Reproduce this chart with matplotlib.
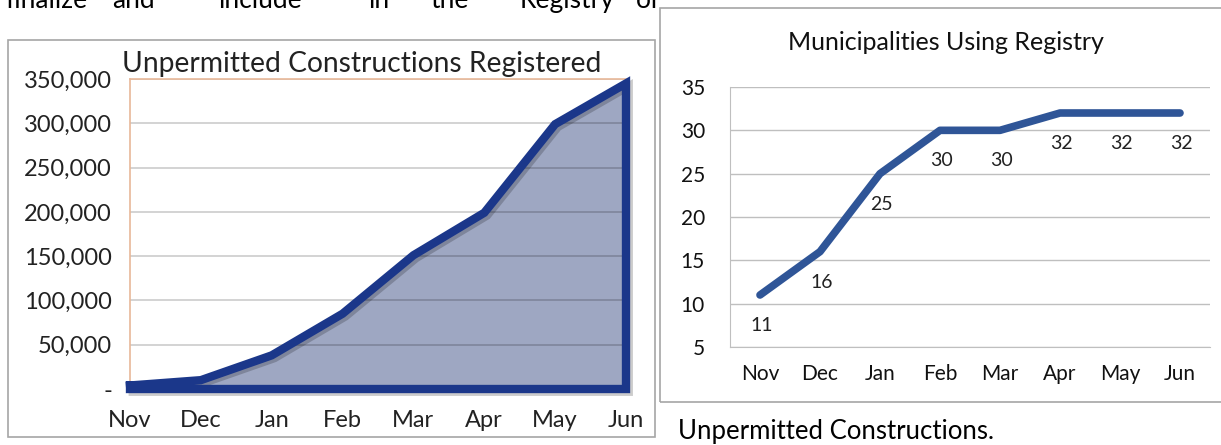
import matplotlib.pyplot as plt
import matplotlib.patheffects as pe
from matplotlib.patches import Rectangle

# data
months = ["Nov", "Dec", "Jan", "Feb", "Mar", "Apr", "May", "Jun"]
registered = [4000, 10000, 38000, 85000, 151000, 199000, 299000, 345000]
municipalities = [11, 16, 25, 30, 30, 32, 32, 32]
reg_ticks = [0, 50000, 100000, 150000, 200000, 250000, 300000, 350000]
mun_ticks = [5, 10, 15, 20, 25, 30, 35]

W, H = 1221, 445
plt.rcParams['font.family'] = ['Lato', 'DejaVu Sans']

fig = plt.figure(figsize=(W / 100, H / 100), dpi=100)


def fx(x):
    return x / W


def fy(y):
    return 1 - y / H


# cut-off line of body text at the top
words = ["finalize", "and", "include", "in", "the", "Registry", "of"]
word_x = [5, 112, 218, 368, 430, 520, 636]
for w, x in zip(words, word_x):
    fig.text(fx(x), fy(8), w, fontsize=19, color="black", va="baseline", ha="left")

# frames
fig.patches.append(Rectangle((fx(8), fy(437)), (655 - 8) / W, (437 - 40) / H,
                             transform=fig.transFigure, fill=False,
                             ec="#a6a6a6", lw=1.2))
fig.patches.append(Rectangle((fx(660), fy(402)), (W + 10 - 660) / W, (402 - 8) / H,
                             transform=fig.transFigure, fill=False,
                             ec="#a6a6a6", lw=1.2))

# ---- left chart: area ----
ax1 = fig.add_axes([fx(130), fy(389), 496 / W, 310 / H])
x = list(range(len(months)))
ax1.fill_between(x, registered, 0, color="#9ea7c2", zorder=1)
for t in reg_ticks[1:]:
    ax1.axhline(t, color="black", alpha=0.2, lw=1.2, zorder=2)
outline_x = x + [x[-1], x[0], x[0]]
outline_y = registered + [0, 0, registered[0]]
ax1.plot(outline_x, outline_y, color="#1b378a", lw=6, solid_joinstyle="miter",
         clip_on=False, zorder=3,
         path_effects=[pe.SimpleLineShadow(offset=(2, -2), alpha=0.2), pe.Normal()])
ax1.set_xlim(0, 7)
ax1.set_ylim(0, 350000)
ax1.set_yticks(reg_ticks)
ax1.set_yticklabels(["-"] + [f"{t:,}" for t in reg_ticks[1:]])
ax1.set_xticks(x)
ax1.set_xticklabels(months)
ax1.tick_params(axis="y", length=0, pad=13, labelsize=17, labelcolor="#222222")
ax1.tick_params(axis="x", length=0, pad=15, labelsize=17, labelcolor="#222222")
for s in ["right", "bottom"]:
    ax1.spines[s].set_visible(False)
for s in ["left", "top"]:
    ax1.spines[s].set_color("#e8b898")
    ax1.spines[s].set_linewidth(1.2)
fig.text(fx(362), fy(64), "Unpermitted Constructions Registered", fontsize=20.3,
         ha="center", va="center", color="#222222")

# ---- right chart: line ----
ax2 = fig.add_axes([fx(730), fy(347), 480 / W, 260 / H])
ax2.plot(x, municipalities, color="#2f5597", lw=5.5, solid_capstyle="round",
         solid_joinstyle="round", zorder=3)
for i, v in enumerate(municipalities):
    ax2.annotate(str(v), (i, v), xytext=(1, -22), textcoords="offset points",
                 ha="center", va="center", fontsize=14, color="#222222")
ax2.set_xlim(-0.5, 7.5)
ax2.set_ylim(5, 35)
ax2.set_yticks(mun_ticks)
ax2.grid(axis="y", color="#bfbfbf", lw=1)
ax2.set_axisbelow(True)
ax2.set_xticks(x)
ax2.set_xticklabels(months)
ax2.tick_params(axis="y", length=0, pad=18, labelsize=15, labelcolor="#111111")
ax2.tick_params(axis="x", length=0, pad=12, labelsize=15, labelcolor="#111111")
for s in ["right", "top"]:
    ax2.spines[s].set_visible(False)
for s in ["left", "bottom"]:
    ax2.spines[s].set_color("#bfbfbf")
fig.text(fx(946), fy(43), "Municipalities Using Registry", fontsize=18,
         ha="center", va="center", color="#111111")

fig.text(fx(678), fy(432), "Unpermitted Constructions.", fontsize=18.5,
         ha="left", va="center", color="black")

fig.savefig("out.png", dpi=100)
